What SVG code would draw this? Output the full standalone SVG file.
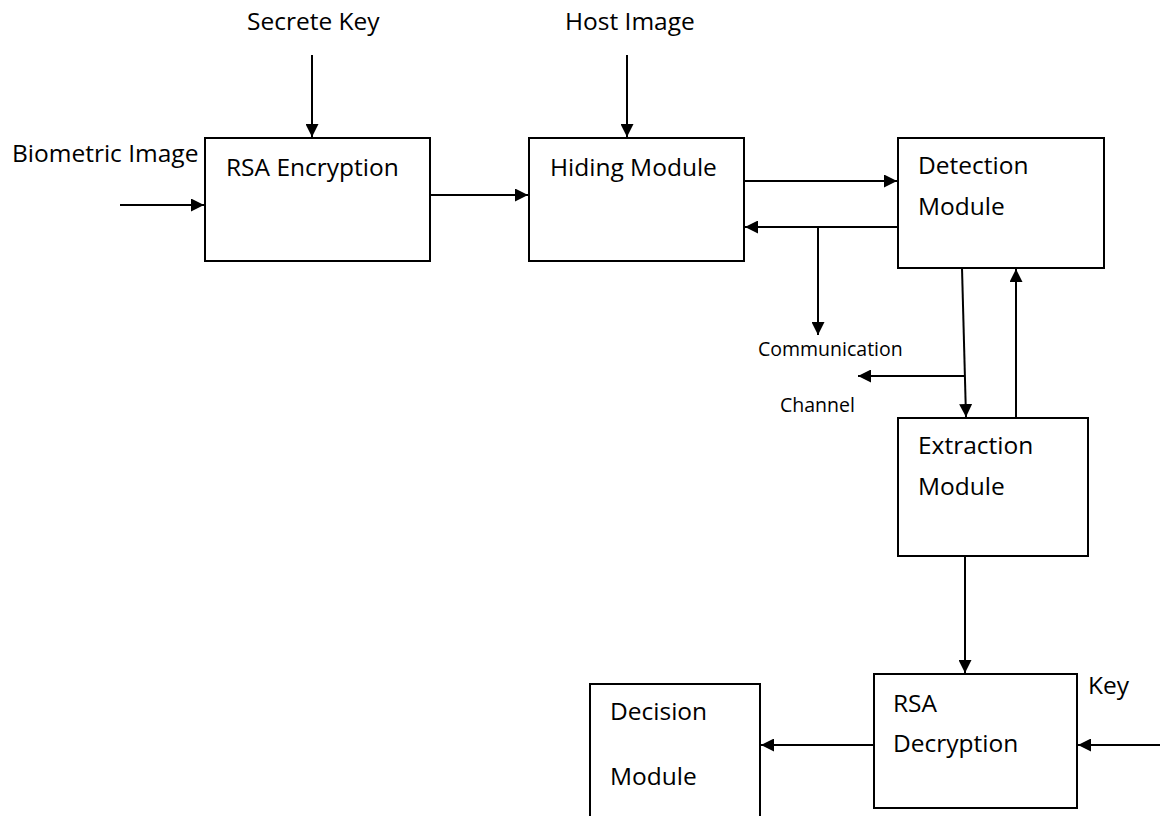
<svg xmlns="http://www.w3.org/2000/svg" width="1160" height="816" viewBox="0 0 1160 816">
<style>
.box{fill:#fff;stroke:#000;stroke-width:2}
.t{font-family:"Open Sans","Liberation Sans",Arial,sans-serif;font-size:24.5px;fill:#000}
.s{font-family:"Open Sans","Liberation Sans",Arial,sans-serif;font-size:19.5px;fill:#000}
.c{stroke:#000;stroke-width:2;fill:none;marker-end:url(#ah)}
</style>
<defs>
<marker id="ah" viewBox="0 0 10 10" refX="10" refY="5" markerWidth="6.5" markerHeight="6.5" orient="auto" markerUnits="strokeWidth">
<path d="M0,0 L10,5 L0,10 z" fill="#000"/>
</marker>
</defs>
<rect width="1160" height="816" fill="#fff"/>
<g id="labels">
<text class="t" x="247" y="30">Secrete Key</text>
<text class="t" x="565" y="30">Host Image</text>
<text class="t" x="12" y="162">Biometric Image</text>
<text class="s" x="758" y="356">Communication</text>
<text class="s" x="780" y="412">Channel</text>
<text class="t" x="1088" y="694">Key</text>
</g>
<g id="rsa-enc"><rect class="box" x="205" y="138" width="225" height="123"/><text class="t" x="226" y="176">RSA Encryption</text></g>
<g id="hiding"><rect class="box" x="529" y="138" width="215" height="123"/><text class="t" x="550" y="176">Hiding Module</text></g>
<g id="detection"><rect class="box" x="898" y="138" width="206" height="130"/><text class="t" x="918" y="174">Detection</text><text class="t" x="918" y="215">Module</text></g>
<g id="extraction"><rect class="box" x="898" y="418" width="190" height="138"/><text class="t" x="918" y="454">Extraction</text><text class="t" x="918" y="495">Module</text></g>
<g id="rsa-dec"><rect class="box" x="874" y="674" width="203" height="134"/><text class="t" x="893" y="712">RSA</text><text class="t" x="893" y="752">Decryption</text></g>
<g id="decision"><rect class="box" x="590" y="684" width="170" height="140"/><text class="t" x="610" y="720">Decision</text><text class="t" x="610" y="785">Module</text></g>
<g id="connectors">
<line class="c" x1="312" y1="55" x2="312" y2="137"/>
<line class="c" x1="627" y1="55" x2="627" y2="137"/>
<line class="c" x1="120" y1="205" x2="204" y2="205"/>
<line class="c" x1="430" y1="195" x2="528" y2="195"/>
<line class="c" x1="744" y1="181" x2="897" y2="181"/>
<line class="c" x1="898" y1="227" x2="745" y2="227"/>
<line class="c" x1="818" y1="227" x2="818" y2="335"/>
<line class="c" x1="962" y1="268" x2="966" y2="417"/>
<line class="c" x1="965" y1="376" x2="858" y2="376"/>
<line class="c" x1="1016" y1="418" x2="1016" y2="269"/>
<line class="c" x1="965" y1="556" x2="965" y2="673"/>
<line class="c" x1="874" y1="745" x2="761" y2="745"/>
<line class="c" x1="1160" y1="745" x2="1078" y2="745"/>
</g>
</svg>
